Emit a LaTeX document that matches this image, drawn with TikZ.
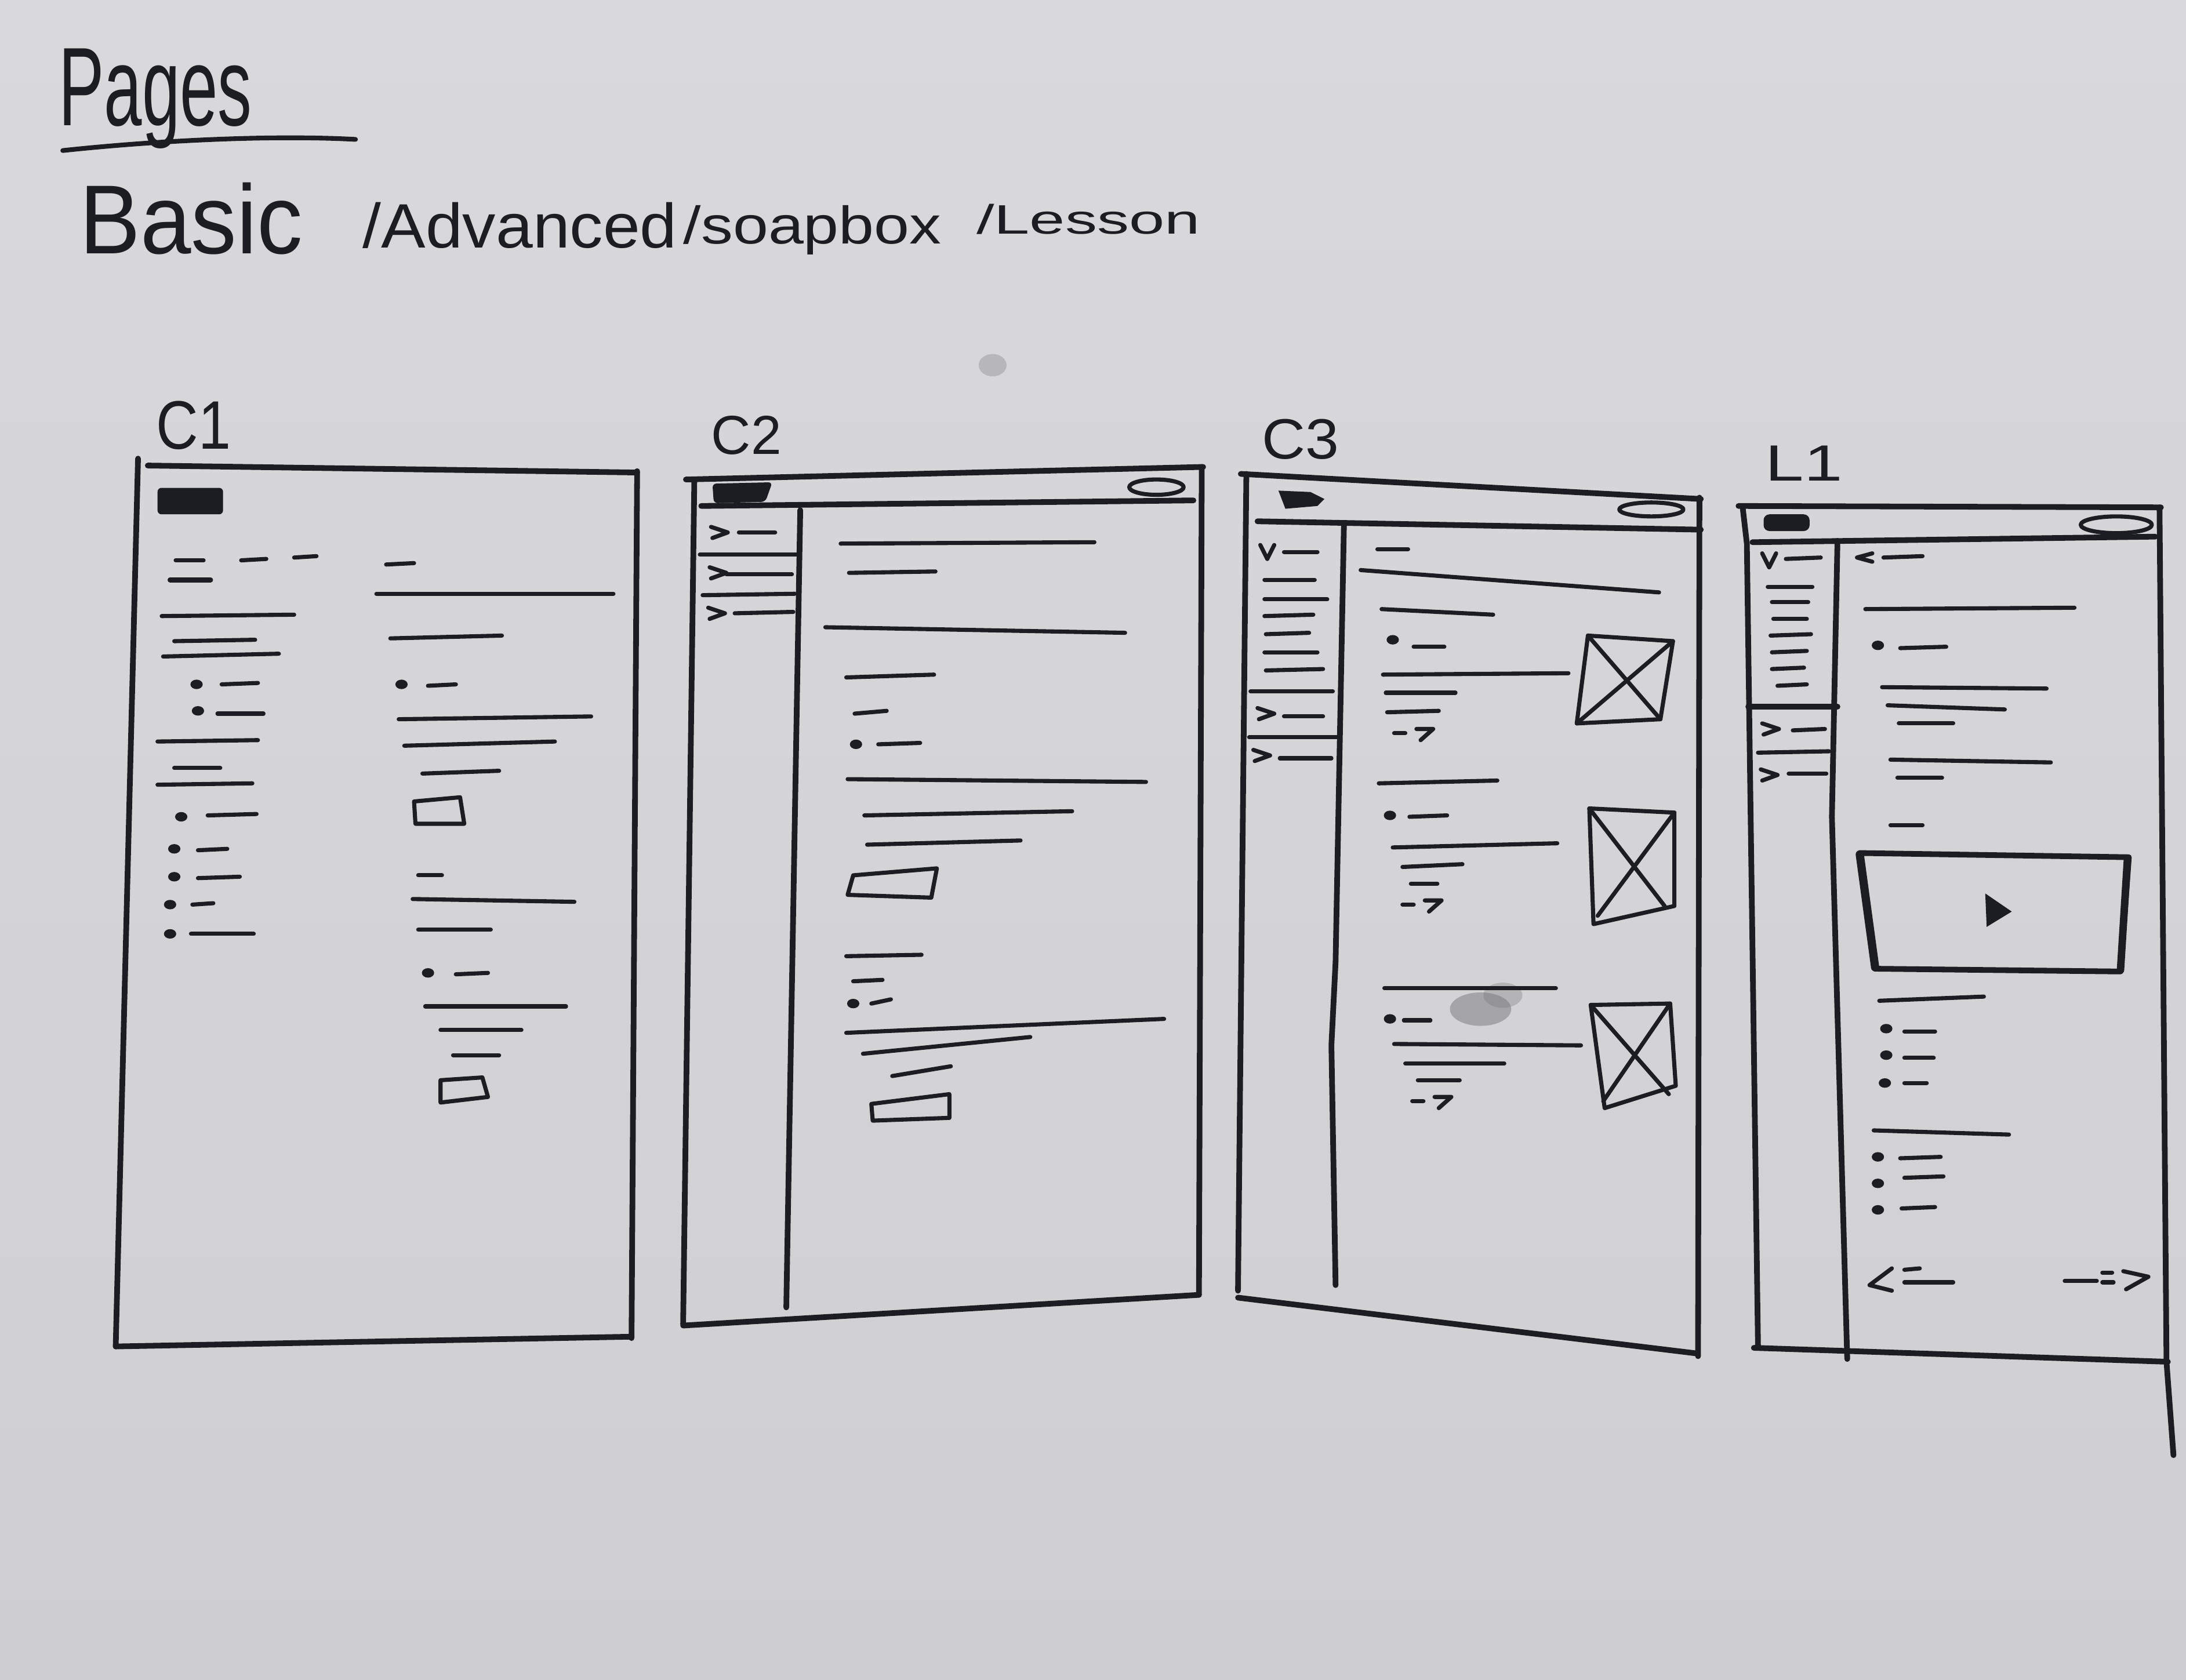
\documentclass[tikz,border=0pt]{standalone}
\usepackage{fontspec}
\setmainfont{Liberation Sans}
\definecolor{inkc}{HTML}{1C1C23}
\definecolor{paperA}{HTML}{D9D9DC}
\definecolor{paperB}{HTML}{C6C6C9}
\definecolor{paperC}{HTML}{CFCFD1}
\definecolor{smudge}{HTML}{6E6E72}
\begin{document}
\begin{tikzpicture}[x=0.025cm,y=-0.025cm,
  frame/.style={draw=inkc,line width=2.9pt,line cap=round,line join=round},
  pen/.style={draw=inkc,line width=2.1pt,line cap=round,line join=round},
  hand/.style={inner sep=0pt,anchor=base west,text=inkc},
  chev/.pic={\draw[pen] (-6,-4) -- (6,0) -- (-5,4);},
  vee/.pic={\draw[pen] (-5,-5) -- (0,5) -- (5,-5);},
  golink/.pic={\draw[pen] (0,0) -- (8,0); \draw[pen] (16,-3) -- (28,-3) -- (19,5);},
  bullet/.pic={\fill[inkc] (0,0) ellipse (4.4 and 3.4);}
]
% paper
\shade[top color=paperA, middle color=paperB, bottom color=paperC] (0,0) rectangle (1568,1205);
\useasboundingbox (0,0) rectangle (1568,1205);
\fill[smudge,opacity=0.45] (1062,724) ellipse (22 and 12);
\fill[smudge,opacity=0.3] (1078,714) ellipse (14 and 9);
\fill[smudge,opacity=0.3] (712,262) ellipse (10 and 8);

% ---------- headings ----------
\node[hand,font=\fontsize{57}{60}\selectfont,xscale=0.61] (ttl) at (42,90) {Pages};
\draw[frame,line width=2.4pt] (45,108) .. controls (120,100) and (200,97) .. (255,100);
\node[hand,font=\fontsize{50}{54}\selectfont,xscale=0.93] (kbasic) at (57,182) {Basic};
\node[hand,font=\fontsize{32}{36}\selectfont,xscale=1.06] (kadv) at (260,178) {/Advanced};
\node[hand,font=\fontsize{27}{30}\selectfont,xscale=1.2] (ksoap) at (490,175) {/soapbox};
\node[hand,font=\fontsize{21}{24}\selectfont,xscale=1.55] (kless) at (700,168) {/Lesson};

\node[hand,font=\fontsize{35}{38}\selectfont,xscale=0.85] (lc1) at (112,322) {C1};
\node[hand,font=\fontsize{28}{31}\selectfont,xscale=1.0] (lc2) at (510,326) {C2};
\node[hand,font=\fontsize{29}{32}\selectfont,xscale=1.06] (lc3) at (905,329) {C3};
\node[hand,font=\fontsize{26}{29}\selectfont,xscale=1.36] (ll1) at (1266,345) {L1};

% ---------- C1 : basic page ----------
\draw[frame] (99,329) -- (83,966);
\draw[frame] (106,334) -- (457,339);
\draw[frame] (457,338) -- (453,960);
\draw[frame] (83,966) -- (453,959);
\fill[inkc,rounded corners=2] (113,350) rectangle (160,369);
\draw[pen] (126,402) -- (146,402);
\draw[pen,line width=2.6pt] (122,416) -- (151,416);
\draw[pen] (173,402) -- (191,401);
\draw[pen] (211,400) -- (227,399);
\draw[pen] (277,405) -- (297,404);
\draw[pen] (270,426) -- (440,426);
\draw[pen] (116,442) -- (211,441);
\draw[pen] (125,460) -- (183,459);
\draw[pen] (117,471) -- (200,469);
\pic at (141,491) {bullet}; \draw[pen] (159,491) -- (185,490);
\pic at (142,510) {bullet}; \draw[pen] (156,512) -- (189,512);
\draw[pen] (113,532) -- (185,531);
\draw[pen] (125,551) -- (158,551);
\draw[pen] (113,563) -- (181,562);
\pic at (130,586) {bullet}; \draw[pen] (149,585) -- (184,584);
\pic at (125,609) {bullet}; \draw[pen] (142,610) -- (163,609);
\pic at (125,629) {bullet}; \draw[pen] (142,630) -- (172,629);
\pic at (122,649) {bullet}; \draw[pen] (138,649) -- (153,648);
\pic at (122,670) {bullet}; \draw[pen] (137,670) -- (182,670);
\draw[pen] (280,458) -- (360,456);
\pic at (288,491) {bullet}; \draw[pen] (307,492) -- (327,491);
\draw[pen] (286,516) -- (424,514);
\draw[pen] (290,535) -- (398,532);
\draw[pen] (303,555) -- (358,553);
\draw[pen] (297,575) -- (330,572) -- (333,591) -- (298,591) -- cycle;
\draw[pen] (300,628) -- (317,628);
\draw[pen] (296,645) -- (412,647);
\draw[pen] (300,667) -- (352,667);
\pic at (307,698) {bullet}; \draw[pen] (327,699) -- (350,698);
\draw[pen] (305,722) -- (406,722);
\draw[pen] (316,739) -- (374,739);
\draw[pen] (325,757) -- (358,757);
\draw[pen] (316,775) -- (346,773) -- (350,787) -- (316,791) -- cycle;

% ---------- C2 : advanced page ----------
\draw[frame] (492,344) -- (863,335);
\draw[frame] (498,346) -- (490,950);
\draw[frame] (862,335) -- (860,929);
\draw[frame] (490,951) -- (860,929);
\draw[frame] (503,363) -- (856,359);
\fill[inkc,rounded corners=2] (511,347) -- (554,346) -- (549,360) -- (512,361) -- cycle;
\draw[pen] (829.5,349.5) ellipse (19.5 and 5.5);
\draw[frame] (574,366) -- (564,938);
\draw[pen] (502,398) -- (572,398);
\draw[pen] (504,427) -- (570,426);
\pic at (516,382) {chev}; \draw[pen] (530,382) -- (556,382);
\pic at (515,411) {chev}; \draw[pen] (521,412) -- (568,412);
\pic at (514,440) {chev}; \draw[pen] (527,440) -- (569,439);
\draw[pen] (603,390) -- (785,389);
\draw[pen] (609,411) -- (671,410);
\draw[pen] (592,450) -- (807,454);
\draw[pen] (607,486) -- (670,484);
\draw[pen] (613,512) -- (636,510);
\pic at (614,534) {bullet}; \draw[pen] (630,534) -- (660,533);
\draw[pen] (608,559) -- (822,561);
\draw[pen] (620,585) -- (769,582);
\draw[pen] (622,606) -- (732,603);
\draw[pen] (612,628) -- (672,623) -- (668,644) -- (608,642) -- cycle;
\draw[pen] (607,686) -- (661,685);
\draw[pen] (612,704) -- (633,703);
\pic at (612,720) {bullet}; \draw[pen] (625,720) -- (639,717);
\draw[pen] (607,741) -- (835,731);
\draw[pen] (619,756) -- (739,744);
\draw[pen] (640,772) -- (682,765);
\draw[pen] (625,792) -- (681,785) -- (681,802) -- (626,804) -- cycle;

% ---------- C3 : soapbox page ----------
\draw[frame] (890,340) -- (1220,358);
\draw[frame] (894,340) -- (888,926);
\draw[frame] (1219,357) -- (1218,973);
\draw[frame] (888,931) -- (1217,971);
\draw[frame] (902,374) -- (1220,380);
\fill[inkc] (917,352) -- (940,353) -- (950,358) -- (945,363) -- (922,365) -- cycle;
\draw[pen] (1184.5,365.5) ellipse (23 and 5);
\draw[frame] (964,376) -- (958,690) -- (955,750) -- (958,922);
\pic at (909,396) {vee}; \draw[pen] (921,396) -- (945,396);
\draw[pen] (907,416) -- (943,416);
\draw[pen] (907,430) -- (952,430);
\draw[pen] (907,442) -- (942,441);
\draw[pen] (908,455) -- (939,454);
\draw[pen] (907,468) -- (945,468);
\draw[pen] (908,481) -- (949,480);
\draw[pen] (897,496) -- (956,496);
\pic at (908,512) {chev}; \draw[pen] (921,514) -- (949,514);
\draw[pen] (896,529) -- (961,529);
\pic at (905,542) {chev}; \draw[pen] (918,544) -- (955,544);
\draw[pen] (988,394) -- (1010,394);
\draw[pen] (976,409) -- (1190,425);
\draw[pen] (991,437) -- (1071,441);
\pic at (999,459) {bullet}; \draw[pen] (1014,464) -- (1036,464);
\draw[pen] (992,484) -- (1125,483);
\draw[pen] (994,497) -- (1044,497);
\draw[pen] (995,511) -- (1032,510);
\pic at (1000,526) {golink};
\draw[pen] (1139,456) -- (1200,460) -- (1191,516) -- (1131,519) -- cycle;
\draw[pen] (1139,456) -- (1191,516);
\draw[pen] (1200,460) -- (1131,519);
\draw[pen] (989,562) -- (1074,560);
\pic at (997,585) {bullet}; \draw[pen] (1011,586) -- (1038,585);
\draw[pen] (999,608) -- (1117,605);
\draw[pen] (1006,622) -- (1049,620);
\draw[pen] (1012,634) -- (1031,634);
\pic at (1006,649) {golink};
\draw[pen] (1140,580) -- (1201,583) -- (1201,650) -- (1143,663) -- cycle;
\draw[pen] (1140,580) -- (1194,650);
\draw[pen] (1201,583) -- (1146,657);
\draw[pen] (993,709) -- (1116,709);
\pic at (997,731) {bullet}; \draw[pen] (1007,732) -- (1026,732);
\draw[pen] (1000,749) -- (1134,750);
\draw[pen] (1008,763) -- (1079,763);
\draw[pen] (1017,775) -- (1047,775);
\pic at (1013,790) {golink};
\draw[pen] (1141,721) -- (1198,720) -- (1202,779) -- (1151,795) -- cycle;
\draw[pen] (1141,721) -- (1197,785);
\draw[pen] (1198,720) -- (1150,790);

% ---------- L1 : lesson page ----------
\draw[frame] (1247,363) -- (1550,364);
\draw[frame] (1250,364) -- (1253,390) -- (1261,966);
\draw[frame] (1549,364) -- (1554,977) -- (1559,1044);
\draw[frame] (1258,967) -- (1555,977);
\draw[frame] (1257,389) -- (1546,385);
\fill[inkc,rounded corners=3] (1265,369) rectangle (1298,381);
\draw[pen] (1518,376.5) ellipse (25.5 and 6);
\draw[frame] (1318,388) -- (1314,586) -- (1325,975);
\pic at (1269,402) {vee}; \draw[pen] (1281,401) -- (1306,400);
\draw[pen] (1268,421) -- (1300,421);
\draw[pen] (1271,432) -- (1297,432);
\draw[pen] (1272,444) -- (1296,444);
\draw[pen] (1270,456) -- (1299,455);
\draw[pen] (1271,468) -- (1296,467);
\draw[pen] (1271,480) -- (1294,479);
\draw[pen] (1275,492) -- (1296,491);
\draw[frame] (1254,507) -- (1318,507);
\pic at (1270,523) {chev}; \draw[pen] (1286,524) -- (1309,523);
\draw[pen] (1261,540) -- (1312,539);
\pic at (1269,556) {chev}; \draw[pen] (1283,555) -- (1310,555);
\draw[pen] (1343,397) -- (1332,400) -- (1343,403);
\draw[pen] (1351,400) -- (1379,399);
\draw[pen] (1338,437) -- (1488,436);
\pic at (1347,463) {bullet}; \draw[pen] (1363,465) -- (1396,464);
\draw[pen] (1350,493) -- (1468,494);
\draw[pen] (1354,506) -- (1438,509);
\draw[pen] (1362,519) -- (1401,519);
\draw[pen] (1356,545) -- (1471,547);
\draw[pen] (1361,558) -- (1393,558);
\draw[pen] (1356,592) -- (1379,592);
\draw[frame] (1334,612) -- (1527,615) -- (1521,697) -- (1345,695) -- cycle;
\draw[frame,line width=4.2pt] (1334,613) -- (1345,694);
\draw[frame,line width=3.8pt] (1526,616) -- (1521,696);
\fill[inkc] (1424,641) -- (1443,654) -- (1425,665) -- cycle;
\draw[pen] (1348,718) -- (1423,715);
\pic at (1353,738) {bullet}; \draw[pen] (1366,740) -- (1388,740);
\pic at (1353,757) {bullet}; \draw[pen] (1366,759) -- (1387,759);
\pic at (1352,777) {bullet}; \draw[pen] (1366,777) -- (1382,777);
\draw[pen] (1344,811) -- (1441,814);
\pic at (1347,830) {bullet}; \draw[pen] (1363,831) -- (1392,830);
\pic at (1347,849) {bullet}; \draw[pen] (1366,845) -- (1394,844);
\pic at (1347,868) {bullet}; \draw[pen] (1364,867) -- (1388,866);
\draw[pen] (1357,910) -- (1341,922) -- (1357,926);
\draw[pen] (1366,911) -- (1377,910);
\draw[pen] (1366,920) -- (1401,920);
\draw[pen] (1481,919) -- (1504,919);
\draw[pen] (1508,913) -- (1515,913);
\draw[pen] (1508,920) -- (1516,920);
\draw[pen] (1523,912) -- (1541,916) -- (1525,925);
\end{tikzpicture}
\end{document}
